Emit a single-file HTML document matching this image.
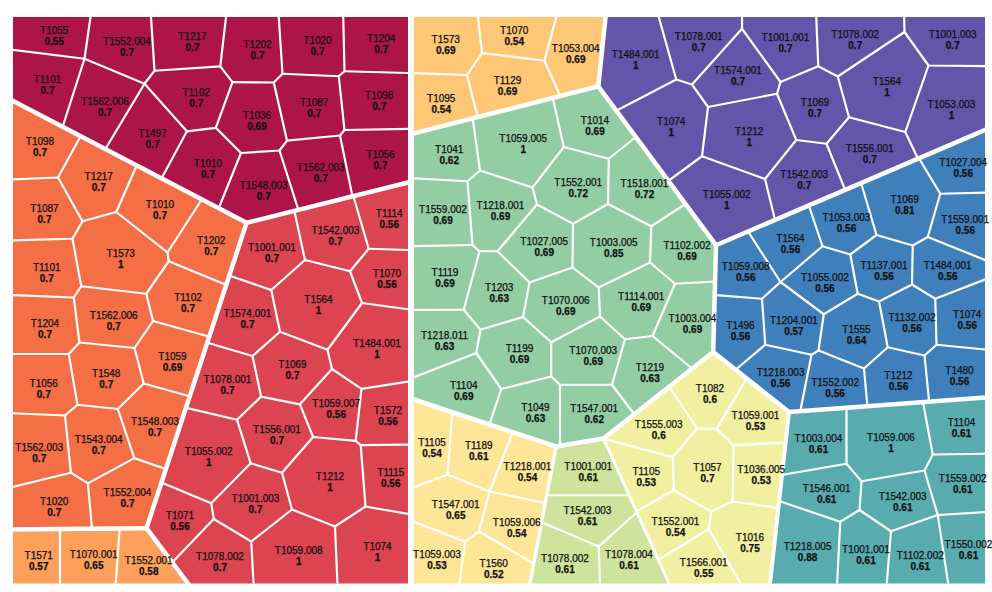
<!DOCTYPE html>
<html><head><meta charset="utf-8"><title>Voronoi treemap</title>
<style>
html,body{margin:0;padding:0;background:#fff;width:992px;height:592px;overflow:hidden}
svg{display:block}
text{font-family:"Liberation Sans",Arial,Helvetica,sans-serif;font-size:10px;fill:#111;stroke:#111;stroke-width:0.25px;text-anchor:middle}
text.v{font-weight:bold;stroke-width:0.25px}
.thin{fill:none;stroke:#fff;stroke-width:2.2;stroke-linejoin:round;stroke-linecap:round}
.thick{fill:none;stroke:#fff;stroke-linejoin:round;stroke-linecap:round}
</style></head><body>
<svg width="992" height="592" viewBox="0 0 992 592">
<defs>
<clipPath id="c-crimson"><polygon points="13,17 408,17 408,182.5 246.6,222.8 13,101"/></clipPath>
<clipPath id="c-orange"><polygon points="13,101 246.6,222.8 146.5,528.2 13,529.3"/></clipPath>
<clipPath id="c-lorange"><polygon points="13,529.3 146.5,528.2 188,583.5 13,583.5"/></clipPath>
<clipPath id="c-red"><polygon points="246.6,222.8 408,182.5 408,583.5 188,583.5 146.5,528.2"/></clipPath>
<clipPath id="c-yellow"><polygon points="414,17 605.6,17 598.3,86.3 414,133"/></clipPath>
<clipPath id="c-purple"><polygon points="605.6,17 985,17 985,130 716,245.2 598.3,86.3"/></clipPath>
<clipPath id="c-green"><polygon points="414,133 598.3,86.3 716,245.2 713.2,352 603.5,438.5 556,446.5 414,399.5"/></clipPath>
<clipPath id="c-blue"><polygon points="716,245.2 985,130 985,397.5 789,412 713.2,352"/></clipPath>
<clipPath id="c-teal"><polygon points="789,412 985,397.5 985,583.5 770,583.5"/></clipPath>
<clipPath id="c-pale1"><polygon points="414,399.5 556,446.5 530,583.5 414,583.5"/></clipPath>
<clipPath id="c-ygreen"><polygon points="556,446.5 603.5,438.5 668.75,583.5 530,583.5"/></clipPath>
<clipPath id="c-pale2"><polygon points="603.5,438.5 713.2,352 789,412 770,583.5 668.75,583.5"/></clipPath>
</defs>
<polygon points="13,17 408,17 408,182.5 246.6,222.8 13,101" fill="#ad1548"/>
<polygon points="13,101 246.6,222.8 146.5,528.2 13,529.3" fill="#f46f46"/>
<polygon points="13,529.3 146.5,528.2 188,583.5 13,583.5" fill="#fca05c"/>
<polygon points="246.6,222.8 408,182.5 408,583.5 188,583.5 146.5,528.2" fill="#db4450"/>
<polygon points="414,17 605.6,17 598.3,86.3 414,133" fill="#fdc776"/>
<polygon points="605.6,17 985,17 985,130 716,245.2 598.3,86.3" fill="#6255aa"/>
<polygon points="414,133 598.3,86.3 716,245.2 713.2,352 603.5,438.5 556,446.5 414,399.5" fill="#92cda4"/>
<polygon points="716,245.2 985,130 985,397.5 789,412 713.2,352" fill="#3f80bc"/>
<polygon points="789,412 985,397.5 985,583.5 770,583.5" fill="#58acb0"/>
<polygon points="414,399.5 556,446.5 530,583.5 414,583.5" fill="#fee698"/>
<polygon points="556,446.5 603.5,438.5 668.75,583.5 530,583.5" fill="#cee39b"/>
<polygon points="603.5,438.5 713.2,352 789,412 770,583.5 668.75,583.5" fill="#f2efa1"/>
<g clip-path="url(#c-crimson)">
<polyline class="thin" points="90.5,10 90.5,17 84.5,58.75 5,49"/>
<polyline class="thin" points="84.5,58.75 60,135"/>
<polyline class="thin" points="84.5,58.75 144.5,83.75 154.5,70.75 151,17 151,10"/>
<polyline class="thin" points="154.5,70.75 220.3,66.3 226,17 226.5,10"/>
<polyline class="thin" points="220.3,66.3 232.5,82.2 215.8,127.8 186.9,131.3 144.5,83.75"/>
<polyline class="thin" points="144.5,83.75 100,158"/>
<polyline class="thin" points="186.9,131.3 158,185"/>
<polyline class="thin" points="215.8,127.8 241,153 279.5,150.5 287,140.6 273.75,82.5 232.5,82.2"/>
<polyline class="thin" points="241,153 216,215"/>
<polyline class="thin" points="279.5,150.5 300,215"/>
<polyline class="thin" points="273.75,82.5 282.5,73.75 278.75,17 278.5,10"/>
<polyline class="thin" points="282.5,73.75 338.75,76.25 344.5,71.25 343.25,17 343.2,10"/>
<polyline class="thin" points="344.5,71.25 415,73.2"/>
<polyline class="thin" points="338.75,76.25 344.5,130 415,128.8"/>
<polyline class="thin" points="344.5,130 340,135.5 287,140.6"/>
<polyline class="thin" points="340,135.5 354,204"/>
</g>
<g clip-path="url(#c-orange)">
<polyline class="thin" points="84,130 58,177.5 82.5,221.25"/>
<polyline class="thin" points="5,179.8 58,177.5"/>
<polyline class="thin" points="140,158 116.25,212"/>
<polyline class="thin" points="82.5,221.25 116.25,212 167.5,252.5"/>
<polyline class="thin" points="206,193 167.5,252.5 168.75,261.25 235,288.5"/>
<polyline class="thin" points="168.75,261.25 146.25,293.75 81.25,286.25 72.5,238.75 82.5,221.25"/>
<polyline class="thin" points="5,240.7 72.5,238.75"/>
<polyline class="thin" points="5,294.7 73.75,297.5 81.25,286.25"/>
<polyline class="thin" points="73.75,297.5 79.5,342.5 134.5,348 153,321 146.25,293.75"/>
<polyline class="thin" points="153,321 215,338.2"/>
<polyline class="thin" points="79.5,342.5 68.75,354 5,354"/>
<polyline class="thin" points="68.75,354 77.5,404.75 117.8,409 143.75,383.5 134.5,348"/>
<polyline class="thin" points="143.75,383.5 195,397.8"/>
<polyline class="thin" points="5,412.9 65,415.5 77.5,404.75"/>
<polyline class="thin" points="65,415.5 70.9,472.7 5,488.8"/>
<polyline class="thin" points="70.9,472.7 87.9,483.4 134.3,458.1 117.8,409"/>
<polyline class="thin" points="134.3,458.1 172,471.3"/>
<polyline class="thin" points="87.9,483.4 92.6,535"/>
</g>
<g clip-path="url(#c-lorange)">
<polyline class="thin" points="60,520 60,590"/>
<polyline class="thin" points="120.3,520 115.3,590"/>
</g>
<g clip-path="url(#c-red)">
<polyline class="thin" points="292,200 305,260 271.25,290 231.25,276.25 220,272.4"/>
<polyline class="thin" points="305,260 350,271.25 368.75,248.75 351,188"/>
<polyline class="thin" points="368.75,248.75 415,250.2"/>
<polyline class="thin" points="350,271.25 362,303 415,310.2"/>
<polyline class="thin" points="271.25,290 280,331.75 327.5,349.75 362,303"/>
<polyline class="thin" points="280,331.75 252.5,356 210,343.5 198,340"/>
<polyline class="thin" points="327.5,349.75 332,369 361.5,388.8 415,380.6"/>
<polyline class="thin" points="332,369 299.9,404.3 261.1,396.6 252.5,356"/>
<polyline class="thin" points="361.5,388.8 355.7,440.8 360.7,445.1 415,444.6"/>
<polyline class="thin" points="299.9,404.3 313.1,437 355.7,440.8"/>
<polyline class="thin" points="261.1,396.6 237,419.7 188.5,408.4 178,406"/>
<polyline class="thin" points="237,419.7 250.7,463.3 282,472.75 313.1,437"/>
<polyline class="thin" points="282,472.75 292,509.5"/>
<polyline class="thin" points="250.7,463.3 211.25,503.2 162.5,482.9 150,478"/>
<polyline class="thin" points="211.25,503.2 213.75,519 165,570"/>
<polyline class="thin" points="213.75,519 251.25,541.5 253.9,590"/>
<polyline class="thin" points="251.25,541.5 292,509.5 335,526.5 337.7,590"/>
<polyline class="thin" points="335,526.5 365.5,506.5 415,515.2"/>
<polyline class="thin" points="365.5,506.5 360.7,445.1"/>
</g>
<g clip-path="url(#c-yellow)">
<polyline class="thin" points="478,10 478,17 482,53 544.5,60.75 556.25,17 558,10"/>
<polyline class="thin" points="405,72.8 467,75 482,53"/>
<polyline class="thin" points="467,75 479.5,124"/>
<polyline class="thin" points="544.5,60.75 562,100"/>
</g>
<g clip-path="url(#c-purple)">
<polyline class="thin" points="657,10 658.75,17 676.25,79.5 610,114"/>
<polyline class="thin" points="676.25,79.5 692,84.5 742,28.75 742,10"/>
<polyline class="thin" points="742,28.75 780.5,82 818.25,66.25 816.25,17 816,10"/>
<polyline class="thin" points="692,84.5 708,107 777,93.75 780.5,82"/>
<polyline class="thin" points="708,107 702,156.25 660,187"/>
<polyline class="thin" points="702,156.25 765,179 796.25,140 777,93.75"/>
<polyline class="thin" points="765,179 777,228"/>
<polyline class="thin" points="796.25,140 826.5,143.75 848,197"/>
<polyline class="thin" points="826.5,143.75 849,117.25 837.75,76.5 818.25,66.25"/>
<polyline class="thin" points="837.75,76.5 904.5,32 904,10"/>
<polyline class="thin" points="904.5,32 928.5,65.5 995,66.3"/>
<polyline class="thin" points="928.5,65.5 905.25,132 849,117.25"/>
<polyline class="thin" points="905.25,132 921,165"/>
</g>
<g clip-path="url(#c-green)">
<polyline class="thin" points="471.5,110 480,170.5"/>
<polyline class="thin" points="405,177.9 467.5,181.25 480,170.5 532.5,187.5 563.75,147 551.5,92"/>
<polyline class="thin" points="563.75,147 608.75,158.75 642,132"/>
<polyline class="thin" points="608.75,158.75 608,204 573,223.75 537,204.5 532.5,187.5"/>
<polyline class="thin" points="467.5,181.25 472.5,245 479.5,251.25 497.5,251.25 537,204.5"/>
<polyline class="thin" points="405,246.4 472.5,245"/>
<polyline class="thin" points="608,204 651.25,226.25 693,199"/>
<polyline class="thin" points="573,223.75 572.5,267.5 529.5,282.5 497.5,251.25"/>
<polyline class="thin" points="572.5,267.5 598.75,287.5 650,262.5 651.25,226.25"/>
<polyline class="thin" points="650,262.5 675,283.75 725,281"/>
<polyline class="thin" points="598.75,287.5 600,316.5 625,339.25 652.5,336 675,283.75"/>
<polyline class="thin" points="652.5,336 700,375"/>
<polyline class="thin" points="625,339.25 612,384.75 560,384.75 551.25,376.5 551.25,342.25 523,317 529.5,282.5"/>
<polyline class="thin" points="551.25,342.25 600,316.5"/>
<polyline class="thin" points="523,317 480.5,329.75 463.75,309.75 479.5,251.25"/>
<polyline class="thin" points="405,310 463.75,309.75"/>
<polyline class="thin" points="480.5,329.75 476.25,353 501.25,389 551.25,376.5"/>
<polyline class="thin" points="476.25,353 405,380.8"/>
<polyline class="thin" points="501.25,389 487.5,430"/>
<polyline class="thin" points="560,384.75 560,452"/>
<polyline class="thin" points="612,384.75 640,422"/>
</g>
<g clip-path="url(#c-blue)">
<polyline class="thin" points="744,226 749.5,233.75 780.5,282 822.5,246.25 807,200"/>
<polyline class="thin" points="822.5,246.25 850.25,254.5 876.5,235 859,176"/>
<polyline class="thin" points="876.5,235 912.75,245.5 927.75,237 940.25,193.75 914,150"/>
<polyline class="thin" points="940.25,193.75 995,192.3"/>
<polyline class="thin" points="927.75,237 995,264"/>
<polyline class="thin" points="912.75,245.5 912,284.5 935.25,298.75 995,275.6"/>
<polyline class="thin" points="935.25,298.75 936.5,344.75 924.5,355.5 887.75,347.25 879,301.5 912,284.5"/>
<polyline class="thin" points="936.5,344.75 995,350.5"/>
<polyline class="thin" points="924.5,355.5 930,410"/>
<polyline class="thin" points="887.75,347.25 864,368.5 868.2,415"/>
<polyline class="thin" points="879,301.5 857.75,293.75 850.25,254.5"/>
<polyline class="thin" points="857.75,293.75 823.75,314.25 780.5,282"/>
<polyline class="thin" points="780.5,282 762,298.75 705,294.2"/>
<polyline class="thin" points="762,298.75 765.25,344.75 811.5,354.75 818.5,350.5 823.75,314.25"/>
<polyline class="thin" points="765.25,344.75 730,374.5"/>
<polyline class="thin" points="811.5,354.75 798.5,420"/>
<polyline class="thin" points="818.5,350.5 864,368.5"/>
</g>
<g clip-path="url(#c-teal)">
<polyline class="thin" points="846.5,400 846.5,463.75 775,476.1"/>
<polyline class="thin" points="846.5,463.75 861.5,481.25 924.5,470.5 932.75,454.5 921.5,394"/>
<polyline class="thin" points="932.75,454.5 995,453.6"/>
<polyline class="thin" points="924.5,470.5 937.75,515 995,511.4"/>
<polyline class="thin" points="937.75,515 891,531.25 859.5,510 861.5,481.25"/>
<polyline class="thin" points="859.5,510 840.25,521.75 770,498"/>
<polyline class="thin" points="840.25,521.75 836.8,590"/>
<polyline class="thin" points="891,531.25 886.3,590"/>
<polyline class="thin" points="937.75,515 949.2,590"/>
</g>
<g clip-path="url(#c-pale1)">
<polyline class="thin" points="453.3,400 447.5,474.5 405,491"/>
<polyline class="thin" points="447.5,474.5 489.5,491.5 514.5,428"/>
<polyline class="thin" points="489.5,491.5 560,506"/>
<polyline class="thin" points="489.5,491.5 479,531.5 465,541.5 405,518.5"/>
<polyline class="thin" points="465,541.5 458.6,590"/>
<polyline class="thin" points="479,531.5 545,570"/>
</g>
<g clip-path="url(#c-ygreen)">
<polyline class="thin" points="540,495.25 640,495.25"/>
<polyline class="thin" points="535,519.5 598.75,546.5 645,505"/>
<polyline class="thin" points="598.75,546.5 600.2,590"/>
</g>
<g clip-path="url(#c-pale2)">
<polyline class="thin" points="662,380 671.25,389.75 697,428.4 716.7,428.9 748,376"/>
<polyline class="thin" points="697,428.4 672.8,457.1 596,436.8"/>
<polyline class="thin" points="672.8,457.1 673.75,490.25 625,518"/>
<polyline class="thin" points="673.75,490.25 711.25,511.5 732.5,501.5 733.6,445.3 716.7,428.9"/>
<polyline class="thin" points="733.6,445.3 795,442"/>
<polyline class="thin" points="732.5,501.5 790,509.7"/>
<polyline class="thin" points="711.25,511.5 708.75,529 650,565"/>
<polyline class="thin" points="708.75,529 745,591"/>
</g>
<polyline class="thick" stroke-width="6" points="411,0 411,600"/>
<polyline class="thick" stroke-width="4.5" points="5,96.8 246.6,222.8"/>
<polyline class="thick" stroke-width="4.5" points="246.6,222.8 408,182.5"/>
<polyline class="thick" stroke-width="4.5" points="246.6,222.8 146.5,528.2"/>
<polyline class="thick" stroke-width="4.5" points="5,529.4 146.5,528.2"/>
<polyline class="thick" stroke-width="4.5" points="146.5,528.2 193,590"/>
<polyline class="thick" stroke-width="4.5" points="606.3,10 598.3,86.3"/>
<polyline class="thick" stroke-width="4.5" points="411,134.1 598.3,86.3"/>
<polyline class="thick" stroke-width="4.5" points="598.3,86.3 716,245.2"/>
<polyline class="thick" stroke-width="4.5" points="716,245.2 995,125.7"/>
<polyline class="thick" stroke-width="4.5" points="716,245.2 713.2,352"/>
<polyline class="thick" stroke-width="4.5" points="713.2,352 603.5,438.5"/>
<polyline class="thick" stroke-width="4.5" points="603.5,438.5 556,446.5"/>
<polyline class="thick" stroke-width="4.5" points="556,446.5 411,398.5"/>
<polyline class="thick" stroke-width="4.5" points="713.2,352 789,412"/>
<polyline class="thick" stroke-width="4.5" points="789,412 995,396.8"/>
<polyline class="thick" stroke-width="4" points="789,412 769.3,590"/>
<polyline class="thick" stroke-width="3.5" points="556,446.5 528.7,590"/>
<polyline class="thick" stroke-width="3" points="603.5,438.5 672,590"/>
<g>
<text x="54.25" y="34.1">T1055</text><text class="v" x="54.25" y="45.1">0.55</text>
<text x="127" y="44.85">T1552.004</text><text class="v" x="127" y="55.85">0.7</text>
<text x="192.5" y="39.85">T1217</text><text class="v" x="192.5" y="50.85">0.7</text>
<text x="257.5" y="48.1">T1202</text><text class="v" x="257.5" y="59.1">0.7</text>
<text x="317.5" y="43.6">T1020</text><text class="v" x="317.5" y="54.6">0.7</text>
<text x="381.25" y="42.35">T1204</text><text class="v" x="381.25" y="53.35">0.7</text>
<text x="47.5" y="83.1">T1101</text><text class="v" x="47.5" y="94.1">0.7</text>
<text x="105" y="104.85">T1562.006</text><text class="v" x="105" y="115.85">0.7</text>
<text x="196.25" y="96.1">T1102</text><text class="v" x="196.25" y="107.1">0.7</text>
<text x="257" y="119.1">T1036</text><text class="v" x="257" y="130.1">0.69</text>
<text x="314.25" y="106.1">T1087</text><text class="v" x="314.25" y="117.1">0.7</text>
<text x="379.25" y="99.1">T1098</text><text class="v" x="379.25" y="110.1">0.7</text>
<text x="152.5" y="136.85">T1497</text><text class="v" x="152.5" y="147.85">0.7</text>
<text x="208" y="167.35">T1010</text><text class="v" x="208" y="178.35">0.7</text>
<text x="320.75" y="171.1">T1562.003</text><text class="v" x="320.75" y="182.1">0.7</text>
<text x="263.75" y="189.1">T1548.003</text><text class="v" x="263.75" y="200.1">0.7</text>
<text x="380.5" y="158.1">T1056</text><text class="v" x="380.5" y="169.1">0.7</text>
<text x="40" y="144.85">T1098</text><text class="v" x="40" y="155.85">0.7</text>
<text x="98.75" y="179.85">T1217</text><text class="v" x="98.75" y="190.85">0.7</text>
<text x="44.5" y="211.85">T1087</text><text class="v" x="44.5" y="222.85">0.7</text>
<text x="160" y="208.1">T1010</text><text class="v" x="160" y="219.1">0.7</text>
<text x="211.25" y="244.1">T1202</text><text class="v" x="211.25" y="255.1">0.7</text>
<text x="120.75" y="256.85">T1573</text><text class="v" x="120.75" y="267.85">1</text>
<text x="46.75" y="270.6">T1101</text><text class="v" x="46.75" y="281.6">0.7</text>
<text x="188" y="300.6">T1102</text><text class="v" x="188" y="311.6">0.7</text>
<text x="45" y="327.1">T1204</text><text class="v" x="45" y="338.1">0.7</text>
<text x="113.75" y="319.1">T1562.006</text><text class="v" x="113.75" y="330.1">0.7</text>
<text x="172.5" y="360.1">T1059</text><text class="v" x="172.5" y="371.1">0.69</text>
<text x="106.25" y="377.1">T1548</text><text class="v" x="106.25" y="388.1">0.7</text>
<text x="43.75" y="387.1">T1056</text><text class="v" x="43.75" y="398.1">0.7</text>
<text x="155" y="424.6">T1548.003</text><text class="v" x="155" y="435.6">0.7</text>
<text x="98.75" y="443.35">T1543.004</text><text class="v" x="98.75" y="454.35">0.7</text>
<text x="39.25" y="451.35">T1562.003</text><text class="v" x="39.25" y="462.35">0.7</text>
<text x="54.25" y="505.1">T1020</text><text class="v" x="54.25" y="516.1">0.7</text>
<text x="127.5" y="495.85">T1552.004</text><text class="v" x="127.5" y="506.85">0.7</text>
<text x="38.75" y="558.85">T1571</text><text class="v" x="38.75" y="569.85">0.57</text>
<text x="93.75" y="557.6">T1070.001</text><text class="v" x="93.75" y="568.6">0.65</text>
<text x="148.75" y="563.85">T1552.001</text><text class="v" x="148.75" y="574.85">0.58</text>
<text x="272" y="251.1">T1001.001</text><text class="v" x="272" y="262.1">0.7</text>
<text x="335.5" y="234.1">T1542.003</text><text class="v" x="335.5" y="245.1">0.7</text>
<text x="389.25" y="217.35">T1114</text><text class="v" x="389.25" y="228.35">0.56</text>
<text x="387" y="277.35">T1070</text><text class="v" x="387" y="288.35">0.56</text>
<text x="318.5" y="303.1">T1564</text><text class="v" x="318.5" y="314.1">1</text>
<text x="247.5" y="317.35">T1574.001</text><text class="v" x="247.5" y="328.35">0.7</text>
<text x="377" y="346.6">T1484.001</text><text class="v" x="377" y="357.6">1</text>
<text x="292.5" y="367.85">T1069</text><text class="v" x="292.5" y="378.85">0.7</text>
<text x="227.5" y="382.85">T1078.001</text><text class="v" x="227.5" y="393.85">0.7</text>
<text x="336.25" y="407.1">T1059.007</text><text class="v" x="336.25" y="418.1">0.56</text>
<text x="388" y="414.1">T1572</text><text class="v" x="388" y="425.1">0.56</text>
<text x="277" y="432.85">T1556.001</text><text class="v" x="277" y="443.85">0.7</text>
<text x="208.75" y="455.1">T1055.002</text><text class="v" x="208.75" y="466.1">1</text>
<text x="330" y="480.1">T1212</text><text class="v" x="330" y="491.1">1</text>
<text x="390.75" y="476.35">T1115</text><text class="v" x="390.75" y="487.35">0.56</text>
<text x="255.5" y="502.1">T1001.003</text><text class="v" x="255.5" y="513.1">0.7</text>
<text x="180" y="519.35">T1071</text><text class="v" x="180" y="530.35">0.56</text>
<text x="220" y="560.1">T1078.002</text><text class="v" x="220" y="571.1">0.7</text>
<text x="298.75" y="554.35">T1059.008</text><text class="v" x="298.75" y="565.35">1</text>
<text x="377.5" y="550.1">T1074</text><text class="v" x="377.5" y="561.1">1</text>
<text x="445.75" y="43.1">T1573</text><text class="v" x="445.75" y="54.1">0.69</text>
<text x="514.25" y="34.1">T1070</text><text class="v" x="514.25" y="45.1">0.54</text>
<text x="575.75" y="51.85">T1053.004</text><text class="v" x="575.75" y="62.85">0.69</text>
<text x="507.5" y="84.1">T1129</text><text class="v" x="507.5" y="95.1">0.69</text>
<text x="441.25" y="102.35">T1095</text><text class="v" x="441.25" y="113.35">0.54</text>
<text x="635.75" y="58.1">T1484.001</text><text class="v" x="635.75" y="69.1">1</text>
<text x="698.75" y="40.35">T1078.001</text><text class="v" x="698.75" y="51.35">0.7</text>
<text x="785.5" y="41.1">T1001.001</text><text class="v" x="785.5" y="52.1">0.7</text>
<text x="855.25" y="38.1">T1078.002</text><text class="v" x="855.25" y="49.1">0.7</text>
<text x="952.75" y="38.1">T1001.003</text><text class="v" x="952.75" y="49.1">0.7</text>
<text x="738" y="74.35">T1574.001</text><text class="v" x="738" y="85.35">0.7</text>
<text x="887" y="85.35">T1564</text><text class="v" x="887" y="96.35">1</text>
<text x="815" y="106.1">T1069</text><text class="v" x="815" y="117.1">0.7</text>
<text x="951.5" y="108.1">T1053.003</text><text class="v" x="951.5" y="119.1">1</text>
<text x="671.25" y="125.35">T1074</text><text class="v" x="671.25" y="136.35">1</text>
<text x="749.25" y="134.85">T1212</text><text class="v" x="749.25" y="145.85">1</text>
<text x="869.75" y="152.35">T1556.001</text><text class="v" x="869.75" y="163.35">0.7</text>
<text x="804.25" y="178.1">T1542.003</text><text class="v" x="804.25" y="189.1">0.7</text>
<text x="726.75" y="198.1">T1055.002</text><text class="v" x="726.75" y="209.1">1</text>
<text x="595" y="124.1">T1014</text><text class="v" x="595" y="135.1">0.69</text>
<text x="523.25" y="141.85">T1059.005</text><text class="v" x="523.25" y="152.85">1</text>
<text x="449.25" y="153.1">T1041</text><text class="v" x="449.25" y="164.1">0.62</text>
<text x="578.25" y="186.1">T1552.001</text><text class="v" x="578.25" y="197.1">0.72</text>
<text x="644.5" y="186.85">T1518.001</text><text class="v" x="644.5" y="197.85">0.72</text>
<text x="443" y="213.1">T1559.002</text><text class="v" x="443" y="224.1">0.69</text>
<text x="500.5" y="209.1">T1218.001</text><text class="v" x="500.5" y="220.1">0.69</text>
<text x="544.25" y="245.35">T1027.005</text><text class="v" x="544.25" y="256.35">0.69</text>
<text x="613.75" y="246.1">T1003.005</text><text class="v" x="613.75" y="257.1">0.85</text>
<text x="687" y="248.85">T1102.002</text><text class="v" x="687" y="259.85">0.69</text>
<text x="445" y="276.1">T1119</text><text class="v" x="445" y="287.1">0.69</text>
<text x="499.25" y="291.1">T1203</text><text class="v" x="499.25" y="302.1">0.63</text>
<text x="565.75" y="304.1">T1070.006</text><text class="v" x="565.75" y="315.1">0.69</text>
<text x="641.25" y="300.35">T1114.001</text><text class="v" x="641.25" y="311.35">0.69</text>
<text x="692.5" y="322.35">T1003.004</text><text class="v" x="692.5" y="333.35">0.69</text>
<text x="444.5" y="339.1">T1218.011</text><text class="v" x="444.5" y="350.1">0.63</text>
<text x="519.5" y="352.1">T1199</text><text class="v" x="519.5" y="363.1">0.69</text>
<text x="593.25" y="354.1">T1070.003</text><text class="v" x="593.25" y="365.1">0.69</text>
<text x="650" y="371.35">T1219</text><text class="v" x="650" y="382.35">0.63</text>
<text x="463.75" y="388.85">T1104</text><text class="v" x="463.75" y="399.85">0.69</text>
<text x="535.5" y="410.85">T1049</text><text class="v" x="535.5" y="421.85">0.63</text>
<text x="594.25" y="412.1">T1547.001</text><text class="v" x="594.25" y="423.1">0.62</text>
<text x="963.25" y="166.1">T1027.004</text><text class="v" x="963.25" y="177.1">0.56</text>
<text x="904.75" y="203.1">T1069</text><text class="v" x="904.75" y="214.1">0.81</text>
<text x="846.5" y="220.85">T1053.003</text><text class="v" x="846.5" y="231.85">0.56</text>
<text x="965.25" y="223.1">T1559.001</text><text class="v" x="965.25" y="234.1">0.56</text>
<text x="790.5" y="242.1">T1564</text><text class="v" x="790.5" y="253.1">0.56</text>
<text x="745.75" y="270.35">T1059.008</text><text class="v" x="745.75" y="281.35">0.56</text>
<text x="884" y="269.35">T1137.001</text><text class="v" x="884" y="280.35">0.56</text>
<text x="947.75" y="269.35">T1484.001</text><text class="v" x="947.75" y="280.35">0.56</text>
<text x="824.9" y="281.1">T1055.002</text><text class="v" x="824.9" y="292.1">0.56</text>
<text x="740.5" y="329.1">T1496</text><text class="v" x="740.5" y="340.1">0.56</text>
<text x="793.9" y="324.2">T1204.001</text><text class="v" x="793.9" y="335.2">0.57</text>
<text x="856.5" y="333">T1555</text><text class="v" x="856.5" y="344">0.64</text>
<text x="912" y="321.1">T1132.002</text><text class="v" x="912" y="332.1">0.56</text>
<text x="967.25" y="318">T1074</text><text class="v" x="967.25" y="329">0.56</text>
<text x="780.6" y="375.85">T1218.003</text><text class="v" x="780.6" y="386.85">0.56</text>
<text x="835.1" y="386.35">T1552.002</text><text class="v" x="835.1" y="397.35">0.56</text>
<text x="898.5" y="379.1">T1212</text><text class="v" x="898.5" y="390.1">0.56</text>
<text x="959.5" y="374.1">T1480</text><text class="v" x="959.5" y="385.1">0.56</text>
<text x="818.5" y="442.2">T1003.004</text><text class="v" x="818.5" y="453.2">0.61</text>
<text x="891" y="441.2">T1059.006</text><text class="v" x="891" y="452.2">1</text>
<text x="961.5" y="426.2">T1104</text><text class="v" x="961.5" y="437.2">0.61</text>
<text x="826.7" y="492.2">T1546.001</text><text class="v" x="826.7" y="503.2">0.61</text>
<text x="902.75" y="500.35">T1542.003</text><text class="v" x="902.75" y="511.35">0.61</text>
<text x="962.75" y="482.35">T1559.002</text><text class="v" x="962.75" y="493.35">0.61</text>
<text x="807.6" y="550">T1218.005</text><text class="v" x="807.6" y="561">0.88</text>
<text x="866" y="553.1">T1001.001</text><text class="v" x="866" y="564.1">0.61</text>
<text x="920.25" y="558.6">T1102.002</text><text class="v" x="920.25" y="569.6">0.61</text>
<text x="968.5" y="548.1">T1550.002</text><text class="v" x="968.5" y="559.1">0.61</text>
<text x="432" y="446.1">T1105</text><text class="v" x="432" y="457.1">0.54</text>
<text x="478.75" y="449.1">T1189</text><text class="v" x="478.75" y="460.1">0.61</text>
<text x="527.5" y="470.35">T1218.001</text><text class="v" x="527.5" y="481.35">0.54</text>
<text x="455.75" y="508.1">T1547.001</text><text class="v" x="455.75" y="519.1">0.65</text>
<text x="516.75" y="526.1">T1059.006</text><text class="v" x="516.75" y="537.1">0.54</text>
<text x="437" y="558.1">T1059.003</text><text class="v" x="437" y="569.1">0.53</text>
<text x="493.75" y="567.1">T1560</text><text class="v" x="493.75" y="578.1">0.52</text>
<text x="588.25" y="469.85">T1001.001</text><text class="v" x="588.25" y="480.85">0.61</text>
<text x="587.5" y="513.6">T1542.003</text><text class="v" x="587.5" y="524.6">0.61</text>
<text x="565" y="562.1">T1078.002</text><text class="v" x="565" y="573.1">0.61</text>
<text x="629" y="558.1">T1078.004</text><text class="v" x="629" y="569.1">0.61</text>
<text x="710" y="392.1">T1082</text><text class="v" x="710" y="403.1">0.6</text>
<text x="658.75" y="428.35">T1555.003</text><text class="v" x="658.75" y="439.35">0.6</text>
<text x="755.5" y="419.1">T1059.001</text><text class="v" x="755.5" y="430.1">0.53</text>
<text x="646.25" y="475.1">T1105</text><text class="v" x="646.25" y="486.1">0.53</text>
<text x="707.5" y="471.35">T1057</text><text class="v" x="707.5" y="482.35">0.7</text>
<text x="761.25" y="473.1">T1036.005</text><text class="v" x="761.25" y="484.1">0.53</text>
<text x="675.5" y="525.1">T1552.001</text><text class="v" x="675.5" y="536.1">0.54</text>
<text x="750" y="540.6">T1016</text><text class="v" x="750" y="551.6">0.75</text>
<text x="703.75" y="566.35">T1566.001</text><text class="v" x="703.75" y="577.35">0.55</text>
</g>
</svg>
</body></html>
